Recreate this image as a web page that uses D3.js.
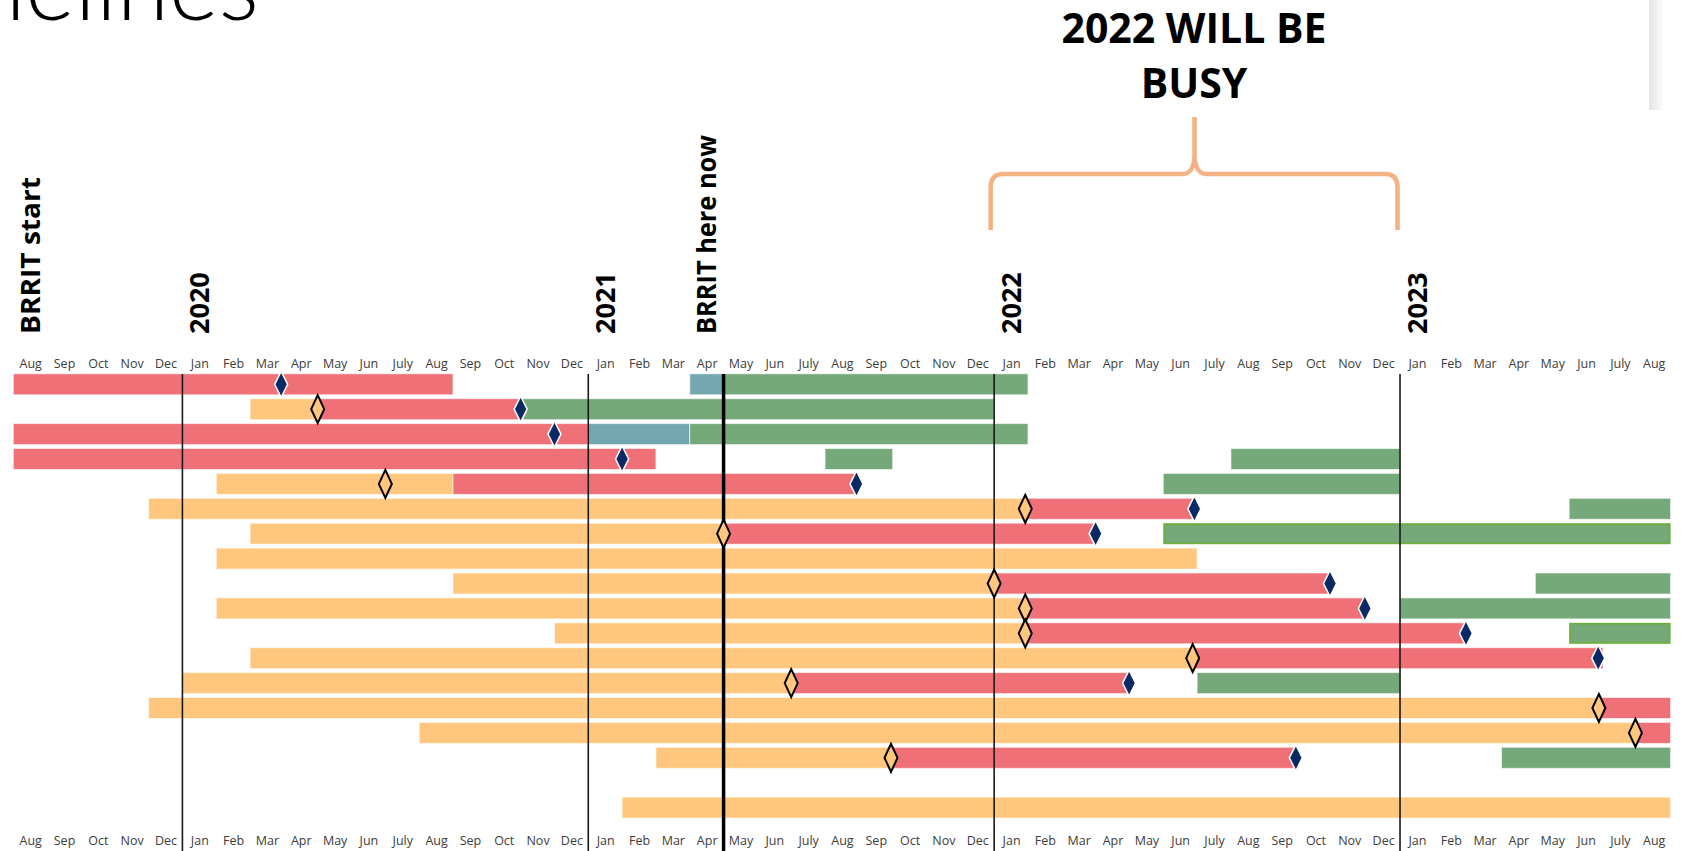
<!DOCTYPE html>
<html>
<head>
<meta charset="utf-8">
<script src="https://cdn.jsdelivr.net/npm/d3@7"></script>
<style>
  html, body { margin: 0; padding: 0; background: #fff; overflow: hidden; }
  svg { display: block; }
</style>
</head>
<body>
<div id="wrapper"></div>
<script>
// month columns, Aug 2019 .. Aug 2023 (index 0 = Aug 2019)
const monthLabels = ["Aug","Sep","Oct","Nov","Dec",
  "Jan","Feb","Mar","Apr","May","Jun","July","Aug","Sep","Oct","Nov","Dec",
  "Jan","Feb","Mar","Apr","May","Jun","July","Aug","Sep","Oct","Nov","Dec",
  "Jan","Feb","Mar","Apr","May","Jun","July","Aug","Sep","Oct","Nov","Dec",
  "Jan","Feb","Mar","Apr","May","Jun","July","Aug"];

const yearStarts = [5, 17, 29, 41];
const yearLabels = ["2020", "2021", "2022", "2023"];
const nowMonth = 21;          // "BRRIT here now" line
const markerLabels = [["BRRIT start", 0.5], ["BRRIT here now", 20.5]];

// bars: [row, startMonth, endMonth]
const orangeBars = [[1,7,9],[4,6,13],[5,4,29.92],[6,7,21],[7,6,35],[8,13,29],[9,6,29.92],
  [10,16,29.92],[11,7,34.87],[12,5,23],[13,4,46.88],[14,12,47.96],[15,19,25.95],[17,18,49]];
const redBars = [[0,0,13],[1,9,15],[2,0,17],[3,0,19],[4,13,24.9],[5,29.92,34.92],[6,21,32],
  [8,29,38.9],[9,29.92,39.96],[10,29.92,42.95],[11,34.87,47],[12,23,33],[13,46.88,49],
  [14,47.96,49],[15,25.95,37.92]];
const tealBars = [[0,20,21],[2,17,20]];
const greenBars = [[0,21,30],[1,15,29],[2,20,30],[3,24,26],[3,36,41],[4,34,41],[5,46,49],
  [8,45,49],[9,41,49],[12,35,41],[15,44,49]];
const outlinedGreenBars = [[6,34,49],[10,46,49]];

// diamonds: [row, month]
const openDiamonds = [[1,9],[4,11],[5,29.92],[6,21],[8,29],[9,29.92],[10,29.92],[11,34.87],
  [12,23],[13,46.88],[14,47.96],[15,25.95]];
const navyDiamonds = [[0,7.92],[1,15],[2,16],[3,18],[4,24.93],[5,34.92],[6,32],[8,38.93],
  [9,39.96],[10,42.95],[11,46.86],[12,32.99],[15,37.92]];

const width = 1690, height = 851;
const barH = 21;

const svg = d3.select("#wrapper").append("svg")
  .attr("width", width)
  .attr("height", height);

const x = d3.scaleLinear().domain([0, 49]).range([13.3, 1670.6]);
const y = d3.scaleLinear().domain([0, 17]).range([384.3, 807.6]);

// slide remnants: title bottom + edge shadow
svg.append("text")
  .attr("x", 259).attr("y", 20)
  .attr("text-anchor", "end")
  .style("font-family", "Lato, 'Open Sans', sans-serif")
  .style("font-weight", 300)
  .style("font-size", "95px")
  .attr("fill", "#000")
  .text("Timelines");

const grad = svg.append("defs").append("linearGradient").attr("id", "edge");
grad.append("stop").attr("offset", "0%").attr("stop-color", "#e4e4e4");
grad.append("stop").attr("offset", "100%").attr("stop-color", "#fbfbfb");
svg.append("rect").attr("x", 1649).attr("y", 0).attr("width", 14).attr("height", 110)
  .attr("fill", "url(#edge)");

// annotation
const note = svg.append("g")
  .style("font-family", "'Open Sans', sans-serif")
  .style("font-weight", 700)
  .style("font-size", "41px")
  .attr("text-anchor", "middle");
note.append("text").attr("x", 1194).attr("y", 43).text("2022 WILL BE");
note.append("text").attr("x", 1194).attr("y", 98).text("BUSY");

const braceL = x(29) - 3.5, braceR = x(41) - 2.5, braceC = 1194.5;
svg.append("path")
  .attr("d", `M${braceL},230 L${braceL},186 Q${braceL + 1},174 ${braceL + 12},174 L${braceC - 12},174 Q${braceC - 1},174 ${braceC},156 L${braceC},117
              M${braceR},230 L${braceR},186 Q${braceR - 1},174 ${braceR - 12},174 L${braceC + 12},174 Q${braceC + 1},174 ${braceC},156`)
  .attr("fill", "none")
  .attr("stroke", "#F4B183")
  .attr("stroke-width", 4.5);

// month axes top and bottom
const monthAxisTop = d3.axisTop(x)
  .tickValues(d3.range(49).map(i => i + 0.5))
  .tickFormat((d, i) => monthLabels[i])
  .tickSize(0).tickPadding(0);
const monthAxisBottom = d3.axisBottom(x)
  .tickValues(d3.range(49).map(i => i + 0.5))
  .tickFormat((d, i) => monthLabels[i])
  .tickSize(0).tickPadding(0);

svg.append("g").attr("transform", "translate(0,368)").call(monthAxisTop);
svg.append("g").attr("transform", "translate(0,836)").call(monthAxisBottom);
svg.selectAll(".domain").remove();
svg.selectAll(".tick text")
  .style("font-family", "'Open Sans', sans-serif")
  .style("font-size", "12.5px")
  .attr("fill", "#3c3c3c");

// bars
function drawBars(data, fill, cls) {
  svg.selectAll("." + cls)
    .data(data)
    .enter()
    .append("rect")
    .attr("class", cls)
    .attr("x", d => x(d[1]))
    .attr("y", d => y(d[0]) - barH / 2)
    .attr("width", d => x(d[2]) - x(d[1]))
    .attr("height", barH)
    .attr("fill", fill)
    .attr("stroke", "#fff")
    .attr("stroke-opacity", 0.6)
    .attr("stroke-width", 1);
}
drawBars(orangeBars, "#FFC77D", "orangeBar");
drawBars(redBars, "#EF7077", "redBar");
drawBars(tealBars, "#73A8B3", "tealBar");
drawBars(greenBars, "#76A979", "greenBar");

svg.selectAll(".outlinedBar")
  .data(outlinedGreenBars)
  .enter()
  .append("rect")
  .attr("class", "outlinedBar")
  .attr("x", d => x(d[1]) + 1)
  .attr("y", d => y(d[0]) - barH / 2 + 1)
  .attr("width", d => x(d[2]) - x(d[1]) - 2)
  .attr("height", barH - 2)
  .attr("fill", "#76A979")
  .attr("stroke", "#6CAE42")
  .attr("stroke-width", 2);

// year lines and "now" line
svg.selectAll(".yearLine")
  .data(yearStarts)
  .enter()
  .append("line")
  .attr("class", "yearLine")
  .attr("x1", d => x(d)).attr("x2", d => x(d))
  .attr("y1", 374).attr("y2", height)
  .attr("stroke", "#1a1a1a")
  .attr("stroke-width", 1.6);

svg.append("line")
  .attr("x1", x(nowMonth)).attr("x2", x(nowMonth))
  .attr("y1", 374).attr("y2", height)
  .attr("stroke", "#000")
  .attr("stroke-width", 3.5);

// diamonds
function diamond(hw, hh) {
  return `M0,${-hh} L${hw},0 L0,${hh} L${-hw},0 Z`;
}
svg.selectAll(".openDiamond")
  .data(openDiamonds)
  .enter()
  .append("path")
  .attr("class", "openDiamond")
  .attr("transform", d => `translate(${x(d[1])},${y(d[0])})`)
  .attr("d", diamond(6.5, 14))
  .attr("fill", "#FFC77D")
  .attr("stroke", "#000")
  .attr("stroke-width", 2);

svg.selectAll(".navyDiamond")
  .data(navyDiamonds)
  .enter()
  .append("path")
  .attr("class", "navyDiamond")
  .attr("transform", d => `translate(${x(d[1])},${y(d[0])})`)
  .attr("d", diamond(6.5, 13))
  .attr("fill", "#0B2A63")
  .attr("stroke", "#fff")
  .attr("stroke-width", 1.5);

// rotated labels (year starts + BRRIT markers)
const rotLabels = yearLabels.map((t, i) => [t, yearStarts[i] + 0.5]).concat(markerLabels);
svg.selectAll(".rotLabel")
  .data(rotLabels)
  .enter()
  .append("text")
  .attr("class", "rotLabel")
  .attr("transform", d => `translate(${x(d[1])},334) rotate(-90)`)
  .attr("dy", "0.36em")
  .style("font-family", "'Open Sans', sans-serif")
  .style("font-weight", 700)
  .style("font-size", "27px")
  .attr("fill", "#000")
  .text(d => d[0]);

// the original labels use a wide geometric face; stretch to its lengths
svg.selectAll(".rotLabel")
  .filter(d => d[0] === "BRRIT start")
  .attr("textLength", 157).attr("lengthAdjust", "spacingAndGlyphs");
svg.selectAll(".rotLabel")
  .filter(d => d[0] === "BRRIT here now")
  .attr("textLength", 199).attr("lengthAdjust", "spacingAndGlyphs");
</script>
</body>
</html>
